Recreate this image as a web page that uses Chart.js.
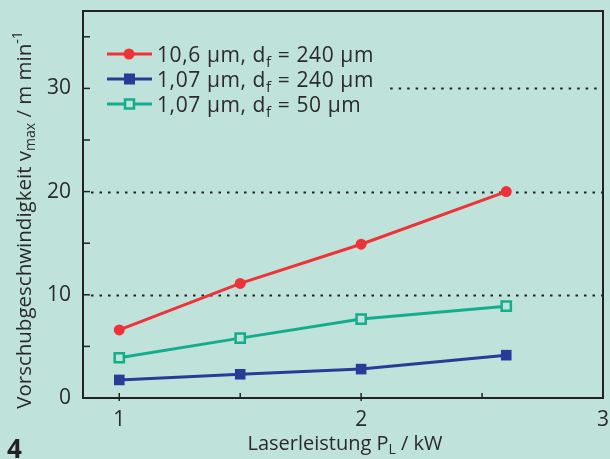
<!DOCTYPE html>
<html>
<head>
<meta charset="utf-8">
<script src="https://cdn.jsdelivr.net/npm/chart.js@4/dist/chart.umd.min.js"></script>
<style>
  html, body { margin: 0; padding: 0; background: #bfe3da; }
  #wrap { width: 610px; height: 459px; position: relative; }
</style>
</head>
<body>
<div id="wrap"><canvas id="speedChart"></canvas></div>
<script>
(function() {
    "use strict";

    // Laserleistung in kW
    var power = [1, 1.5, 2, 2.6];
    var co2_240 = [6.6, 11.1, 14.9, 20.0];
    var fiber_240 = [1.75, 2.3, 2.8, 4.15];
    var fiber_50 = [3.9, 5.8, 7.65, 8.9];

    var xTicks = [1, 2, 3];
    var yTicks = [0, 10, 20, 30];
    var gridValues = [10, 20, 30];

    var seriesLabels = [
        ["10,6 µm, d", "f", " = 240 µm"],
        ["1,07 µm, d", "f", " = 240 µm"],
        ["1,07 µm, d", "f", " = 50 µm"]
    ];

    var red = "#ee3238", blue = "#283c97", green = "#14ad8c", bg = "#bfe3da";
    var ink = "#222";
    var fontName = "'Open Sans', 'Noto Sans', sans-serif";

    function pts(ys) {
        return power.map(function(x, i) { return { x: x, y: ys[i] }; });
    }

    function drawText(ctx, parts, x, y, size) {
        // parts: [normal, sub, normal]
        ctx.font = size + "px " + fontName;
        ctx.fillText(parts[0], x, y);
        x += ctx.measureText(parts[0]).width;
        ctx.font = Math.round(size * 0.7) + "px " + fontName;
        ctx.fillText(parts[1], x, y + size * 0.22);
        x += ctx.measureText(parts[1]).width;
        ctx.font = size + "px " + fontName;
        ctx.fillText(parts[2], x, y);
    }

    var decor = {
        id: "decor",
        beforeDatasetsDraw: function(chart) {
            var ctx = chart.ctx, a = chart.chartArea;
            var xs = chart.scales.x, ys = chart.scales.y;
            ctx.save();
            ctx.strokeStyle = ink;
            ctx.lineWidth = 2;
            ctx.setLineDash([2.5, 6]);
            gridValues.forEach(function(v) {
                var y = Math.round(ys.getPixelForValue(v)) + 0.5;
                var x0 = v === 30 ? xs.getPixelForValue(2.12) : a.left + 8;
                ctx.beginPath();
                ctx.moveTo(x0, y);
                ctx.lineTo(a.right, y);
                ctx.stroke();
            });
            ctx.setLineDash([]);
            ctx.lineWidth = 1.5;
            for (var v = 5; v <= 35; v += 5) {
                var y = ys.getPixelForValue(v);
                ctx.beginPath();
                ctx.moveTo(a.left, y);
                ctx.lineTo(a.left + 7, y);
                ctx.stroke();
            }
            for (var p = 1; p <= 2.5; p += 0.5) {
                var x = xs.getPixelForValue(p);
                ctx.beginPath();
                ctx.moveTo(x, a.bottom + (p % 1 === 0 ? 3 : 0));
                ctx.lineTo(x, a.bottom - 5);
                ctx.stroke();
            }
            ctx.lineWidth = 2;
            ctx.strokeRect(a.left, a.top, a.right - a.left, a.bottom - a.top);
            ctx.restore();
        },
        afterDraw: function(chart) {
            var ctx = chart.ctx;
            ctx.save();
            ctx.fillStyle = "#2a2a2a";
            ctx.textBaseline = "alphabetic";

            // legend
            var colors = [red, blue, green];
            var rows = [54, 79, 104];
            rows.forEach(function(y, i) {
                ctx.strokeStyle = colors[i];
                ctx.lineWidth = 3;
                ctx.beginPath();
                ctx.moveTo(107, y);
                ctx.lineTo(152, y);
                ctx.stroke();
                if (i === 0) {
                    ctx.fillStyle = red;
                    ctx.beginPath();
                    ctx.arc(129, y, 5.5, 0, Math.PI * 2);
                    ctx.fill();
                } else if (i === 1) {
                    ctx.fillStyle = blue;
                    ctx.fillRect(124, y - 5.5, 11, 11);
                } else {
                    ctx.fillStyle = bg;
                    ctx.fillRect(125, y - 4.5, 9, 9);
                    ctx.lineWidth = 2.5;
                    ctx.strokeRect(125, y - 4.5, 9, 9);
                }
                ctx.fillStyle = "#2a2a2a";
                ctx.letterSpacing = "0.6px";
                drawText(ctx, seriesLabels[i], 157, y + 8, 21);
                ctx.letterSpacing = "0px";
            });

            // x title
            ctx.font = "20px " + fontName;
            var t1 = "Laserleistung P", t2 = "L", t3 = " / kW";
            var w1 = ctx.measureText(t1).width, w3 = ctx.measureText(t3).width;
            ctx.font = "14px " + fontName;
            var w2 = ctx.measureText(t2).width;
            var xs0 = 345 - (w1 + w2 + w3) / 2;
            drawText(ctx, [t1, t2, t3], xs0, 450, 20);

            // y title
            ctx.translate(31, 220);
            ctx.rotate(-Math.PI / 2);
            ctx.font = "20.5px " + fontName;
            var a1 = "Vorschubgeschwindigkeit v", a3 = " / m min";
            var b1 = ctx.measureText(a1).width, b3 = ctx.measureText(a3).width;
            ctx.font = "14px " + fontName;
            var b2 = ctx.measureText("max").width, b4 = ctx.measureText("-1").width;
            var sx = -(b1 + b2 + b3 + b4) / 2;
            ctx.font = "20.5px " + fontName;
            ctx.fillText(a1, sx, 0);
            sx += b1;
            ctx.font = "14px " + fontName;
            ctx.fillText("max", sx, 4);
            sx += b2;
            ctx.font = "20.5px " + fontName;
            ctx.fillText(a3, sx, 0);
            sx += b3;
            ctx.font = "14px " + fontName;
            ctx.fillText("-1", sx, -9);
            ctx.setTransform(1, 0, 0, 1, 0, 0);

            // figure number
            ctx.font = "bold 26px " + fontName;
            ctx.fillStyle = "#222";
            ctx.fillText("4", 7, 458);
            ctx.restore();
        }
    };

    new Chart(document.getElementById("speedChart"), {
        type: "line",
        data: {
            datasets: [
                {
                    data: pts(co2_240),
                    borderColor: red,
                    backgroundColor: red,
                    borderWidth: 3,
                    pointStyle: "circle",
                    pointRadius: 5.5,
                    pointBorderWidth: 0
                },
                {
                    data: pts(fiber_240),
                    borderColor: blue,
                    backgroundColor: blue,
                    borderWidth: 3,
                    pointStyle: "rect",
                    pointRadius: 7.5,
                    pointBorderWidth: 0
                },
                {
                    data: pts(fiber_50),
                    borderColor: green,
                    backgroundColor: bg,
                    borderWidth: 3,
                    pointStyle: "rect",
                    pointRadius: 6.5,
                    pointBorderWidth: 2.5
                }
            ]
        },
        options: {
            responsive: true,
            maintainAspectRatio: false,
            animation: false,
            layout: { autoPadding: false, padding: { left: 0, top: 11, right: 7, bottom: 0 } },
            plugins: { legend: { display: false }, tooltip: { enabled: false } },
            elements: { line: { tension: 0 } },
            scales: {
                x: {
                    type: "linear",
                    min: 0.85,
                    max: 3.0,
                    border: { display: false },
                    grid: { display: false, drawTicks: false },
                    afterBuildTicks: function(s) { s.ticks = xTicks.map(function(v) { return { value: v }; }); },
                    afterFit: function(s) {
                        s.height = 61;
                        s.paddingLeft = 0;
                        s.paddingRight = 0;
                    },
                    ticks: {
                        padding: 9,
                        color: "#2a2a2a",
                        font: { family: fontName, size: 21 },
                        maxRotation: 0
                    }
                },
                y: {
                    min: 0,
                    max: 37.5,
                    border: { display: false },
                    grid: { display: false, drawTicks: false },
                    afterBuildTicks: function(s) { s.ticks = yTicks.map(function(v) { return { value: v }; }); },
                    afterFit: function(s) {
                        s.width = 83;
                        s.paddingTop = 0;
                        s.paddingBottom = 0;
                    },
                    ticks: {
                        padding: 12,
                        color: "#2a2a2a",
                        font: { family: fontName, size: 21 }
                    }
                }
            }
        },
        plugins: [decor]
    });
})();
</script>
</body>
</html>
